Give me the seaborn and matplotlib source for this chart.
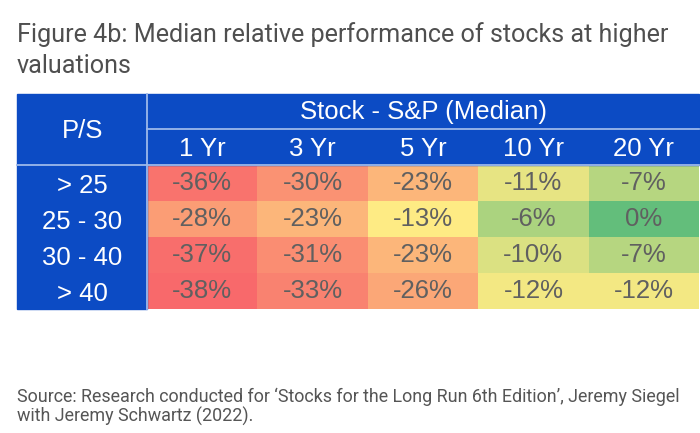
import numpy as np
import pandas as pd
import seaborn as sns
import matplotlib.pyplot as plt
from matplotlib.colors import LinearSegmentedColormap, TwoSlopeNorm
from matplotlib.patches import Rectangle

# valores (mediana da diferença ação - S&P)
ps_bands = ["> 25", "25 - 30", "30 - 40", "> 40"]
horizons = ["1 Yr", "3 Yr", "5 Yr", "10 Yr", "20 Yr"]
yr1 = [-36, -28, -37, -38]
yr3 = [-30, -23, -31, -33]
yr5 = [-23, -13, -23, -26]
yr10 = [-11, -6, -10, -12]
yr20 = [-7, 0, -7, -12]

df = pd.DataFrame(dict(zip(horizons, [yr1, yr3, yr5, yr10, yr20])), index=ps_bands)
labels = df.map(lambda v: f"{v}%")

blue = "#0c4bc4"
line_c = "#9db8ea"
cell_font = "Liberation Sans"
fs = 18.5

cmap = LinearSegmentedColormap.from_list("ryg", ["#f8696b", "#ffeb84", "#63be7b"])
norm = TwoSlopeNorm(vmin=-38, vcenter=-13, vmax=0)

fig = plt.figure(figsize=(7, 4.33), dpi=100)
ax = fig.add_axes([147 / 700, 1 - 309 / 433, 552 / 700, 144 / 433])
sns.heatmap(df, ax=ax, cmap=cmap, norm=norm, annot=labels, fmt="", cbar=False,
            xticklabels=False, yticklabels=False,
            annot_kws={"color": "#606060", "fontsize": fs, "family": cell_font})
ax.set_xlabel("")
ax.set_ylabel("")

# cabeçalho e coluna P/S
x0, y0 = -1.175, -1.97
ax.add_patch(Rectangle((x0, y0), 5 - x0, -y0, color=blue, clip_on=False))
ax.add_patch(Rectangle((x0, 0), -x0, 4, color=blue, clip_on=False))
ax.plot([0, 0], [y0, 4], color=line_c, lw=1.3, clip_on=False)
ax.plot([0, 5], [-1, -1], color=line_c, lw=1.3, clip_on=False)
ax.plot([x0, 5], [0, 0], color=line_c, lw=1.3, clip_on=False)
ax.set_xlim(0, 5)
ax.set_ylim(4, 0)

hdr = dict(color="white", fontsize=fs, family=cell_font, ha="center", va="center")
ax.text(x0 / 2, -0.95, "P/S", **hdr)
ax.text(2.5, -1.46, "Stock - S&P (Median)", **hdr)
for i, h in enumerate(horizons):
    ax.text(i + 0.5, -0.45, h, **hdr)
for j, b in enumerate(ps_bands):
    ax.text(x0 / 2, j + 0.57, b, **hdr)

fig.text(17 / 700, 1 - 42 / 433, "Figure 4b: Median relative performance of stocks at higher",
         family="Roboto", fontsize=18.1, color="#4f4f4f", va="baseline")
fig.text(17 / 700, 1 - 73 / 433, "valuations",
         family="Roboto", fontsize=18.1, color="#4f4f4f", va="baseline")

fig.text(17 / 700, 1 - 402 / 433,
         "Source: Research conducted for \u2018Stocks for the Long Run 6th Edition\u2019, Jeremy Siegel",
         family="Roboto", fontsize=12.9, color="#555555", va="baseline")
fig.text(17 / 700, 1 - 422 / 433, "with Jeremy Schwartz (2022).",
         family="Roboto", fontsize=12.9, color="#555555", va="baseline")

plt.savefig("out.png", dpi=100)
